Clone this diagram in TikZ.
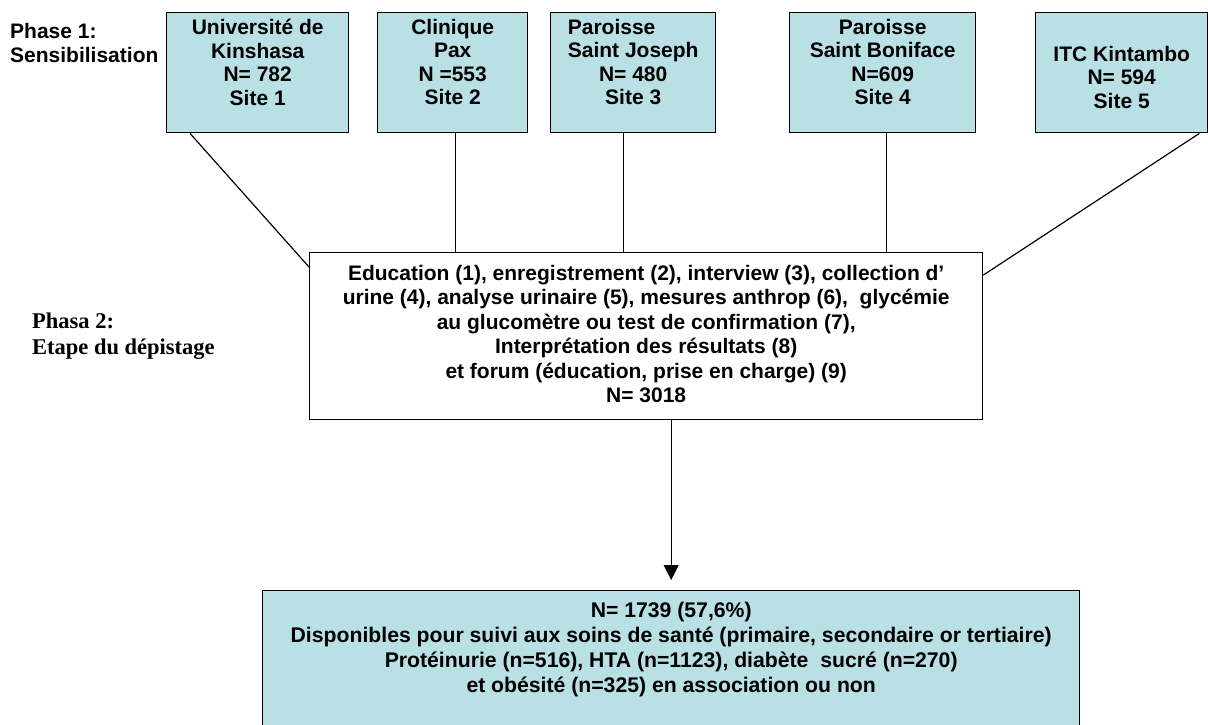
\documentclass[tikz,border=0pt]{standalone}
\usepackage{fontspec}
\usepackage{calc}
\setmainfont{Liberation Sans}
\newfontfamily\serifbold{Liberation Serif}
\usetikzlibrary{arrows.meta,calc}
\definecolor{boxblue}{RGB}{185,224,228}
\begin{document}
\begin{tikzpicture}[x=1pt,y=-1pt,
  sitebox/.style={draw=black, line width=1.4pt, fill=boxblue, anchor=north west, inner sep=0pt, minimum height=120pt},
  plainbox/.style={draw=black, line width=1.4pt, fill=white, anchor=north west, inner sep=0pt},
  lbl/.style={font=\bfseries\fontsize{21}{23.5}\selectfont, align=center, inner sep=0pt, anchor=north},
  conn/.style={line width=1.2pt, draw=black},
]
\useasboundingbox (0,0) rectangle (1208,725);
\clip (0,0) rectangle (1208,725);

% phase labels
\node[font=\bfseries\fontsize{21}{24}\selectfont, align=left, inner sep=0pt, anchor=north west] (p1) at (10,23) {Phase 1:\\Sensibilisation};
\node[font=\serifbold\bfseries\fontsize{22.5}{26}\selectfont, align=left, inner sep=0pt, anchor=north west] (p2) at (32,313) {Phasa 2:\\Etape du dépistage};

% site boxes
\node[sitebox, minimum width=182pt] (b1) at (166,12) {};
\node[sitebox, minimum width=150pt] (b2) at (377,12) {};
\node[sitebox, minimum width=165pt] (b3) at (550,12) {};
\node[sitebox, minimum width=186pt] (b4) at (789,12) {};
\node[sitebox, minimum width=172pt] (b5) at (1035,12) {};

\node[lbl] (t1) at ($(b1.north)+(0,7)$) {Université de\\Kinshasa\\N= 782\\Site 1};
\node[lbl] (t2) at ($(b2.north)+(0,7)$) {Clinique\\Pax\\N =553\\Site 2};
\node[lbl] (t3) at ($(b3.north)+(0,7)$) {\makebox[\widthof{Saint Joseph}][l]{Paroisse}\\Saint Joseph\\N= 480\\Site 3};
\node[lbl] (t4) at ($(b4.north)+(0,7)$) {Paroisse\\Saint Boniface\\N=609\\Site 4};
\node[lbl] (t5) at ($(b5.north)+(0,34)$) {ITC Kintambo\\N= 594\\Site 5};

% screening box
\node[plainbox, minimum width=673pt, minimum height=167pt] (mid) at (309,252) {};
\node[font=\bfseries\fontsize{21}{24.5}\selectfont, align=center, inner sep=0pt, anchor=north] (midt) at ($(mid.north)+(0,13)$)
 {Education (1), enregistrement (2), interview (3), collection d’\\
  urine (4), analyse urinaire (5), mesures anthrop (6),\ \ glycémie\\
  au glucomètre ou test de confirmation (7),\\
  Interprétation des résultats (8)\\
  et forum (éducation, prise en charge) (9)\\
  N= 3018};

% result box
\node[sitebox, minimum width=817pt, minimum height=150pt] (bot) at (262,590) {};
\node[font=\bfseries\fontsize{21.2}{25}\selectfont, align=center, inner sep=0pt, anchor=north] (bott) at ($(bot.north)+(0,12)$)
 {N= 1739 (57,6\%)\\
  Disponibles pour suivi aux soins de santé (primaire, secondaire or tertiaire)\\
  Protéinurie (n=516), HTA (n=1123), diabète\ \ sucré (n=270)\\
  et obésité (n=325) en association ou non};

% connectors
\draw[conn] ([xshift=24pt]b1.south west) -- ([yshift=-15pt]mid.north west);
\draw[conn] ([xshift=3pt]b2.south) -- ([xshift=3pt]b2.south |- mid.north);
\draw[conn] ([xshift=-10pt]b3.south) -- ([xshift=-10pt]b3.south |- mid.north);
\draw[conn] ([xshift=4pt]b4.south) -- ([xshift=4pt]b4.south |- mid.north);
\draw[conn] ([xshift=-9pt]b5.south east) -- ([yshift=-23pt]mid.north east);
\draw[conn, -{Triangle[width=15pt,length=15pt]}, shorten >=10pt] (mid.south -| bot.north) -- (bot.north);
\end{tikzpicture}
\end{document}
